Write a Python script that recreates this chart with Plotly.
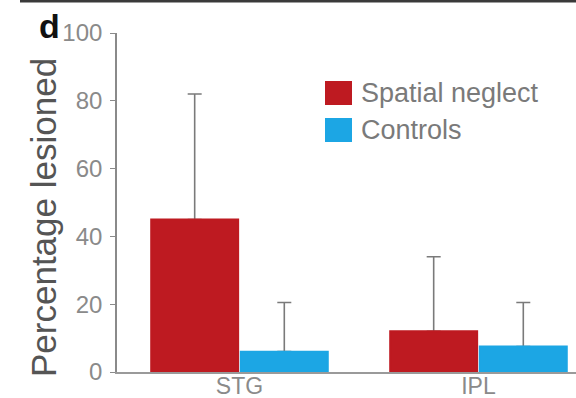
import plotly.graph_objects as go

# Lesion overlap per region, mean and SD (percentage of region lesioned)
regions = ["STG", "IPL"]
neglect_mean = [45, 12]
neglect_sd = [37, 22]
control_mean = [6, 7.5]
control_sd = [14.5, 13]

series_names = ["Spatial neglect", "Controls"]
series_colors = ["#BE1A21", "#1CA6E4"]
series_means = [neglect_mean, control_mean]
series_sds = [neglect_sd, control_sd]

W, H = 576, 398
M_L, M_R, M_T, M_B = 117, 0, 33, 26
plot_w = W - M_L - M_R
plot_h = H - M_T - M_B

FONT = "Liberation Sans, Arial, sans-serif"


def px_x(x):
    return (x - M_L) / plot_w


def px_y(y):
    return (H - M_B - y) / plot_h


fig = go.Figure()

# upward-only SD whiskers, drawn first so the solid bars sit on top of them
for i, (name, mean, sd) in enumerate(zip(series_names, series_means, series_sds)):
    fig.add_trace(go.Bar(
        x=regions, y=mean, name=name + " SD", offsetgroup=str(i),
        marker=dict(color="rgba(0,0,0,0)", line=dict(width=0)),
        error_y=dict(type="data", symmetric=False, array=sd,
                     arrayminus=[0] * len(regions),
                     color="#7a7a7a", thickness=1.6, width=7),
        showlegend=False, hoverinfo="skip",
    ))

for i, (name, color, mean) in enumerate(zip(series_names, series_colors, series_means)):
    fig.add_trace(go.Bar(
        x=regions, y=mean, name=name, offsetgroup=str(i),
        marker=dict(color=color, line=dict(width=2, color=color)),
        showlegend=False,
    ))

shapes = [
    # rule along the top of the panel
    dict(type="line", xref="paper", yref="paper",
         x0=px_x(20), x1=px_x(W + 5), y0=px_y(1), y1=px_y(1),
         line=dict(color="#3a3a3a", width=3)),
]
annotations = [
    dict(text="<b>d</b>", xref="paper", yref="paper", x=px_x(37), y=px_y(26),
         xanchor="left", yanchor="middle", showarrow=False,
         font=dict(family=FONT, size=34, color="#111")),
    dict(text="Percentage lesioned", textangle=-90, xref="paper", yref="paper",
         x=px_x(43), y=px_y(218), xanchor="center", yanchor="middle", showarrow=False,
         font=dict(family=FONT, size=35, color="#555")),
]

# legend: swatches and labels
legend_rows = [93, 130]
for name, color, yc in zip(series_names, series_colors, legend_rows):
    shapes.append(dict(type="rect", xref="paper", yref="paper",
                       x0=px_x(325), x1=px_x(352), y0=px_y(yc - 12), y1=px_y(yc + 12),
                       fillcolor=color, line=dict(width=0)))
    annotations.append(dict(text=name, xref="paper", yref="paper",
                            x=px_x(359), y=px_y(yc), xanchor="left", yanchor="middle",
                            showarrow=False,
                            font=dict(family=FONT, size=27, color="#7a7a7a")))

fig.update_layout(
    width=W, height=H,
    margin=dict(l=M_L, r=M_R, t=M_T, b=M_B, pad=0, autoexpand=False),
    paper_bgcolor="white", plot_bgcolor="white",
    barmode="group", bargap=0.25, bargroupgap=0.03,
    shapes=shapes, annotations=annotations,
    font=dict(family=FONT),
)
fig.update_xaxes(
    range=[-0.5125, 1.408], showgrid=False, zeroline=False, automargin=False,
    showline=True, linecolor="#9a9a9a", linewidth=1.6,
    ticks="", ticklabelstandoff=-7,
    tickfont=dict(family=FONT, size=23, color="#8a8a8a"),
)
fig.update_yaxes(
    range=[0, 100], tickvals=[0, 20, 40, 60, 80, 100], automargin=False,
    showgrid=False, zeroline=False,
    showline=True, linecolor="#8a8a8a", linewidth=1.6,
    ticks="outside", ticklen=5, tickwidth=1.4, tickcolor="#8a8a8a",
    ticklabelstandoff=3,
    tickfont=dict(family=FONT, size=24, color="#8a8a8a"),
)

fig.write_html("out.html")
